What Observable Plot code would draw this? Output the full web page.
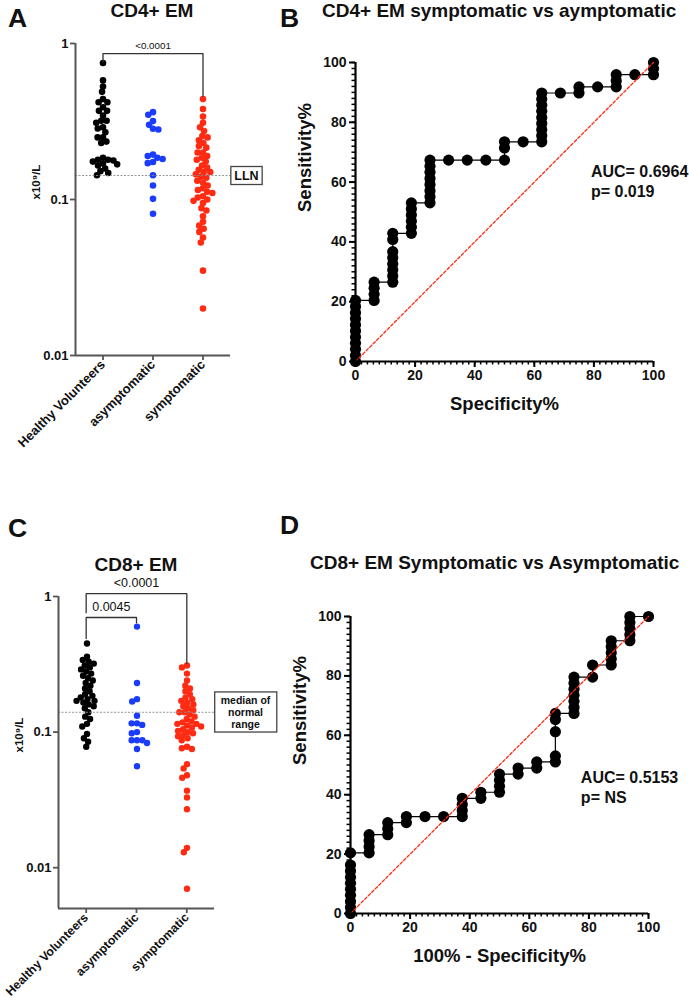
<!DOCTYPE html>
<html><head><meta charset="utf-8">
<script src="https://cdn.jsdelivr.net/npm/d3@7"></script>
<script src="https://cdn.jsdelivr.net/npm/@observablehq/plot@0.6"></script>
<style>
html,body{margin:0;padding:0;background:#fff;}
#fig{position:relative;width:689px;height:1005px;overflow:hidden;font-family:"Liberation Sans",Arial,Helvetica,sans-serif;color:#111;background:#fff;}
.layer{position:absolute;}
.layer svg{display:block;}
.letter{position:absolute;font-weight:bold;font-size:26.5px;line-height:1;}
.ttl{position:absolute;font-weight:bold;font-size:19px;line-height:1;white-space:nowrap;}
</style></head>
<body><div id="fig"></div>
<script>
// ---------- data ----------
const groups = ["Healthy Volunteers", "asymptomatic", "symptomatic"];
const groupColors = ["#000000", "#1b3dfb", "#ff2b12"];
const logTicks = [0.01, 0.1, 1];
const unitLabel = "x10⁹/L";

// Panel A: CD4+ EM (x10^9/L)
const cd4Healthy = [0.75, 0.58, 0.53, 0.49, 0.44, 0.42, 0.42, 0.39, 0.37, 0.37, 0.345, 0.32, 0.32, 0.31, 0.29, 0.285, 0.27, 0.25, 0.25, 0.235, 0.23, 0.185, 0.18, 0.18, 0.178, 0.175, 0.17, 0.168, 0.165, 0.158, 0.152, 0.148, 0.143];
const cd4Asym = [0.363, 0.349, 0.318, 0.301, 0.284, 0.281, 0.194, 0.19, 0.185, 0.182, 0.174, 0.171, 0.143, 0.123, 0.101, 0.081];
const cd4Sym = [0.44, 0.38, 0.34, 0.31, 0.29, 0.275, 0.255, 0.25, 0.24, 0.23, 0.22, 0.215, 0.2, 0.2, 0.19, 0.185, 0.18, 0.175, 0.165, 0.16, 0.155, 0.15, 0.15, 0.145, 0.14, 0.138, 0.132, 0.128, 0.123, 0.118, 0.115, 0.112, 0.11, 0.105, 0.103, 0.1, 0.098, 0.095, 0.088, 0.085, 0.078, 0.072, 0.068, 0.065, 0.062, 0.057, 0.053, 0.035, 0.02];
const cd4Ref = {value: 0.1425, label: "LLN"};
const cd4Brackets = [{from: "Healthy Volunteers", to: "symptomatic", top: 0.86, leftEnd: 0.76, rightEnd: 0.46, label: "<0.0001"}];

// Panel C: CD8+ EM (x10^9/L)
const cd8Healthy = [0.45, 0.36, 0.34, 0.33, 0.32, 0.31, 0.30, 0.29, 0.28, 0.27, 0.26, 0.25, 0.24, 0.23, 0.22, 0.21, 0.20, 0.19, 0.185, 0.18, 0.175, 0.17, 0.17, 0.165, 0.16, 0.155, 0.15, 0.14, 0.13, 0.125, 0.115, 0.11, 0.097, 0.09, 0.085, 0.078];
const cd8Asym = [0.60, 0.23, 0.175, 0.168, 0.132, 0.116, 0.116, 0.113, 0.100, 0.098, 0.087, 0.087, 0.087, 0.083, 0.075, 0.056];
const cd8Sym = [0.31, 0.30, 0.27, 0.24, 0.22, 0.21, 0.20, 0.19, 0.18, 0.175, 0.17, 0.165, 0.16, 0.155, 0.15, 0.145, 0.14, 0.14, 0.135, 0.13, 0.125, 0.12, 0.118, 0.115, 0.115, 0.112, 0.11, 0.108, 0.105, 0.102, 0.1, 0.098, 0.095, 0.093, 0.09, 0.087, 0.078, 0.076, 0.075, 0.058, 0.054, 0.048, 0.046, 0.037, 0.033, 0.027, 0.014, 0.013, 0.007];
const cd8Ref = {value: 0.14, label: "median of\nnormal\nrange"};
const cd8Brackets = [
  {from: "Healthy Volunteers", to: "symptomatic", top: 1.05, leftEnd: 0.76, rightEnd: 0.32, label: "<0.0001"},
  {from: "Healthy Volunteers", to: "asymptomatic", top: 0.70, leftEnd: 0.49, rightEnd: 0.64, label: "0.0045"}
];

// Panel B: ROC CD4+ EM (x = 100% - specificity%, y = sensitivity%)
const cd4RocX = [0,0,0,0,0,0,0,0,0,0,0, 6.25,6.25,6.25,6.25, 12.5,12.5,12.5,12.5,12.5,12.5,12.5,12.5, 18.75,18.75,18.75,18.75,18.75,18.75, 25,25,25,25,25,25,25,25, 31.25, 37.5, 43.75, 50,50,50, 56.25, 62.5,62.5,62.5,62.5,62.5,62.5,62.5,62.5,62.5, 68.75, 75,75, 81.25, 87.5,87.5,87.5, 93.75, 100,100,100];
const cd4RocY = [0,2.04,4.08,6.12,8.16,10.2,12.24,14.29,16.33,18.37,20.41, 20.41,22.45,24.49,26.53, 26.53,28.57,30.61,32.65,34.69,36.73,40.82,42.86, 42.86,44.9,46.94,48.98,51.02,53.06, 53.06,55.1,57.14,59.18,61.22,63.27,65.31,67.35, 67.35, 67.35, 67.35, 67.35,71.43,73.47, 73.47, 73.47,75.51,77.55,79.59,81.63,83.67,85.71,87.76,89.8, 89.8, 89.8,91.84, 91.84, 91.84,93.88,95.92, 95.92, 95.92,97.96,100];
const cd4Auc = ["AUC= 0.6964", "p= 0.019"];
const cd4AucAt = {x: 79, y: 60.5};

// Panel D: ROC CD8+ EM
const cd8RocX = [0,0,0,0,0,0,0,0,0,0, 6.25,6.25,6.25,6.25, 12.5,12.5,12.5, 18.75,18.75, 25, 31.25, 37.5,37.5,37.5,37.5, 43.75,43.75, 50,50,50,50, 56.25,56.25, 62.5,62.5, 68.75,68.75,68.75,68.75,68.75, 75,75,75,75,75,75,75, 81.25,81.25, 87.5,87.5,87.5,87.5,87.5, 93.75,93.75,93.75,93.75,93.75, 100];
const cd8RocY = [0,2.04,4.08,6.12,8.16,10.2,12.24,14.29,16.33,20.41, 20.41,22.45,24.49,26.53, 26.53,28.57,30.61, 30.61,32.65, 32.65, 32.65, 32.65,34.69,36.73,38.78, 38.78,40.82, 40.82,42.86,44.9,46.94, 46.94,48.98, 48.98,51.02, 51.02,53.06,61.22,65.31,67.35, 67.35,69.39,71.43,73.47,75.51,77.55,79.59, 79.59,83.67, 83.67,85.71,87.76,89.8,91.84, 91.84,93.88,95.92,97.96,100, 100];
const cd8Auc = ["AUC= 0.5153", "p= NS"];
const cd8AucAt = {x: 77.3, y: 42.8};

const rocDiagonal = [{x: 0, y: 0}, {x: 100, y: 100}];
const rocMajorTicks = [0, 20, 40, 60, 80, 100];
const rocMinorTicks = d3.range(0, 101, 2);

// ---------- helpers ----------
const FONT = '"Liberation Sans", Arial, Helvetica, sans-serif';
const fig = document.getElementById("fig");

function place(node, left, top) {
  const d = document.createElement("div");
  d.className = "layer";
  d.style.left = left + "px";
  d.style.top = top + "px";
  d.appendChild(node);
  fig.appendChild(d);
  return node;
}
function html(cls, text, left, top, center) {
  const d = document.createElement("div");
  d.className = cls;
  d.textContent = text;
  d.style.left = left + "px";
  d.style.top = top + "px";
  if (center) d.style.transform = "translateX(-50%)";
  fig.appendChild(d);
}
function boxAround(svg, label, padX, padY) {
  const target = label.replace(/\n/g, "");
  for (const t of svg.querySelectorAll("text")) {
    if (t.textContent === target) {
      const bb = t.getBBox();
      const r = document.createElementNS("http://www.w3.org/2000/svg", "rect");
      r.setAttribute("x", bb.x - padX);
      r.setAttribute("y", bb.y - padY);
      r.setAttribute("width", bb.width + 2 * padX);
      r.setAttribute("height", bb.height + 2 * padY);
      r.setAttribute("fill", "#fff");
      r.setAttribute("stroke", "#444");
      r.setAttribute("stroke-width", 1.3);
      if (t.getAttribute("transform")) r.setAttribute("transform", t.getAttribute("transform"));
      t.parentNode.insertBefore(r, t);
    }
  }
}

function scatterPanel(cfg) {
  const {healthy, asym, sym, yDomain, ref, brackets, left, top, W, H, mL, mR, mT, mB, r, catFont, bracketFont, bracketDy, refFont, refDx, refLineHeight} = cfg;
  const rows = [
    ...healthy.map(v => ({group: groups[0], value: v})),
    ...asym.map(v => ({group: groups[1], value: v})),
    ...sym.map(v => ({group: groups[2], value: v}))
  ];
  const xDomain = [-0.55, groups.length - 0.45];
  // dodge on a smaller core radius; the stroke widens each dot to its drawn size
  const core = 2.2;
  const dots = Plot.plot({
    width: W, height: H, marginLeft: mL, marginRight: mR, marginTop: mT, marginBottom: mB,
    style: {background: "transparent", fontFamily: FONT, overflow: "visible"},
    fx: {domain: groups, paddingInner: 0.1, paddingOuter: 0.1, axis: null, label: null},
    y: {type: "log", domain: yDomain, axis: null},
    color: {domain: groups, range: groupColors},
    marks: [
      Plot.dot(rows, Plot.dodgeX("middle", {fx: "group", y: "value", r: core, fill: "group", stroke: "group", strokeWidth: 2 * (r - core), padding: 0}))
    ]
  });
  const path = brackets.flatMap((b, k) => {
    const i = groups.indexOf(b.from), j = groups.indexOf(b.to);
    return [{id: k, x: i, y: b.leftEnd}, {id: k, x: i, y: b.top}, {id: k, x: j, y: b.top}, {id: k, x: j, y: b.rightEnd}];
  });
  const overlay = Plot.plot({
    width: W, height: H, marginLeft: mL, marginRight: mR, marginTop: mT, marginBottom: mB,
    style: {background: "transparent", fontFamily: FONT, overflow: "visible", color: "#111"},
    x: {type: "linear", domain: xDomain, axis: null},
    y: {type: "log", domain: yDomain, axis: null},
    marks: [
      Plot.ruleY([ref.value], {stroke: "#8a8a8a", strokeWidth: 0.9, strokeDasharray: "2,1.5"}),
      Plot.ruleX([xDomain[0]], {stroke: "#555", strokeWidth: 2}),
      Plot.ruleY([yDomain[0]], {stroke: "#555", strokeWidth: 2}),
      Plot.axisY(logTicks, {tickFormat: d => String(d), tickSize: 5, tickPadding: 2, stroke: "#555", strokeWidth: 1.8, fontWeight: "bold", fontSize: 13, fill: "#111", label: null}),
      Plot.axisX(d3.range(groups.length), {tickFormat: i => groups[i], tickRotate: -45, tickSize: 5, tickPadding: 2, stroke: "#555", strokeWidth: 1.8, fontWeight: "bold", fontSize: catFont, fill: "#111", label: null}),
      Plot.text([unitLabel], {frameAnchor: "left", rotate: -90, dx: -39, fontWeight: "bold", fontSize: 11.5, fill: "#111"}),
      Plot.line(path, {x: "x", y: "y", z: "id", stroke: "#333", strokeWidth: 1.3}),
      Plot.text(brackets, {x: b => (groups.indexOf(b.from) + groups.indexOf(b.to)) / 2, y: "top", text: "label", dy: bracketDy, fontSize: bracketFont, fill: "#111"}),
      Plot.text([ref], {y: "value", text: "label", frameAnchor: "right", textAnchor: "middle", dx: refDx, fontWeight: "bold", fontSize: refFont, lineHeight: refLineHeight, fill: "#111"})
    ]
  });
  place(dots, left, top);
  place(overlay, left, top);
  return overlay;
}

function rocPanel(cfg) {
  const {xs, ys, auc, aucAt, xLabel, left, top, W, H, mL, mR, mT, mB} = cfg;
  const pts = xs.map((x, i) => ({x, y: ys[i]}));
  const svg = Plot.plot({
    width: W, height: H, marginLeft: mL, marginRight: mR, marginTop: mT, marginBottom: mB,
    style: {background: "transparent", fontFamily: FONT, overflow: "visible", color: "#000"},
    x: {domain: [0, 100], axis: null},
    y: {domain: [0, 100], axis: null},
    marks: [
      Plot.line(pts, {x: "x", y: "y", stroke: "#000", strokeWidth: 1.2}),
      Plot.dot(pts, {x: "x", y: "y", r: 5.6, fill: "#000"}),
      Plot.line(rocDiagonal, {x: "x", y: "y", stroke: "#ff2b12", strokeWidth: 1.3, strokeDasharray: "3,2"}),
      Plot.ruleX([0], {stroke: "#000", strokeWidth: 2.2}),
      Plot.ruleY([0], {stroke: "#000", strokeWidth: 2.2}),
      Plot.axisX(rocMinorTicks, {tickSize: 3.5, strokeWidth: 1.5, fill: "none", label: null}),
      Plot.axisY(rocMinorTicks, {tickSize: 3.5, strokeWidth: 1.5, fill: "none", label: null}),
      Plot.axisX(rocMajorTicks, {tickSize: 6, tickPadding: 3, strokeWidth: 2, fontWeight: "bold", fontSize: 14, fill: "#111", label: null}),
      Plot.axisY(rocMajorTicks, {tickSize: 6, tickPadding: 3, strokeWidth: 2, fontWeight: "bold", fontSize: 14, fill: "#111", label: null}),
      Plot.text([xLabel], {frameAnchor: "bottom", dy: 48, fontWeight: "bold", fontSize: 18.5, fill: "#111"}),
      Plot.text(["Sensitivity%"], {frameAnchor: "left", rotate: -90, dx: -50, fontWeight: "bold", fontSize: 18.5, fill: "#111"}),
      Plot.text([auc.join("\n")], {x: () => aucAt.x, y: () => aucAt.y, textAnchor: "start", fontWeight: "bold", fontSize: 16, lineHeight: 1.25, fill: "#111"})
    ]
  });
  place(svg, left, top);
}

// ---------- panels ----------
const svgA = scatterPanel({healthy: cd4Healthy, asym: cd4Asym, sym: cd4Sym, yDomain: [0.01, 1], ref: cd4Ref, brackets: cd4Brackets,
  left: 0, top: 0, W: 270, H: 460, mL: 75, mR: 40, mT: 43, mB: 105, r: 3.3, catFont: 13, bracketFont: 9.8, bracketDy: -8, refFont: 12.5, refDx: 16, refLineHeight: 1});
const svgC = scatterPanel({healthy: cd8Healthy, asym: cd8Asym, sym: cd8Sym, yDomain: [0.005, 1], ref: cd8Ref, brackets: cd8Brackets,
  left: 0, top: 500, W: 270, H: 505, mL: 58, mR: 56, mT: 96, mB: 97, r: 3.2, catFont: 12.3, bracketFont: 12.5, bracketDy: -10.5, refFont: 10.5, refDx: 31, refLineHeight: 1.1});
rocPanel({xs: cd4RocX, ys: cd4RocY, auc: cd4Auc, aucAt: cd4AucAt, xLabel: "Specificity%",
  left: 270, top: 30, W: 419, H: 400, mL: 85, mR: 36, mT: 32, mB: 69});
rocPanel({xs: cd8RocX, ys: cd8RocY, auc: cd8Auc, aucAt: cd8AucAt, xLabel: "100% - Specificity%",
  left: 270, top: 530, W: 419, H: 475, mL: 80, mR: 41, mT: 86, mB: 92});

boxAround(svgA, cd4Ref.label, 3.5, 2);
boxAround(svgC, cd8Ref.label, 6, 2.5);

// titles and panel letters
html("letter", "A", 8, 4.5);
html("letter", "B", 280, 4.5);
html("letter", "C", 8, 514.5);
html("letter", "D", 280, 511.5);
html("ttl", "CD4+ EM", 152, 1, true);
html("ttl", "CD4+ EM symptomatic vs aymptomatic", 322, 1);
html("ttl", "CD8+ EM", 136, 554.5, true);
html("ttl", "CD8+ EM Symptomatic vs Asymptomatic", 310, 552.5);
</script>
</body></html>
